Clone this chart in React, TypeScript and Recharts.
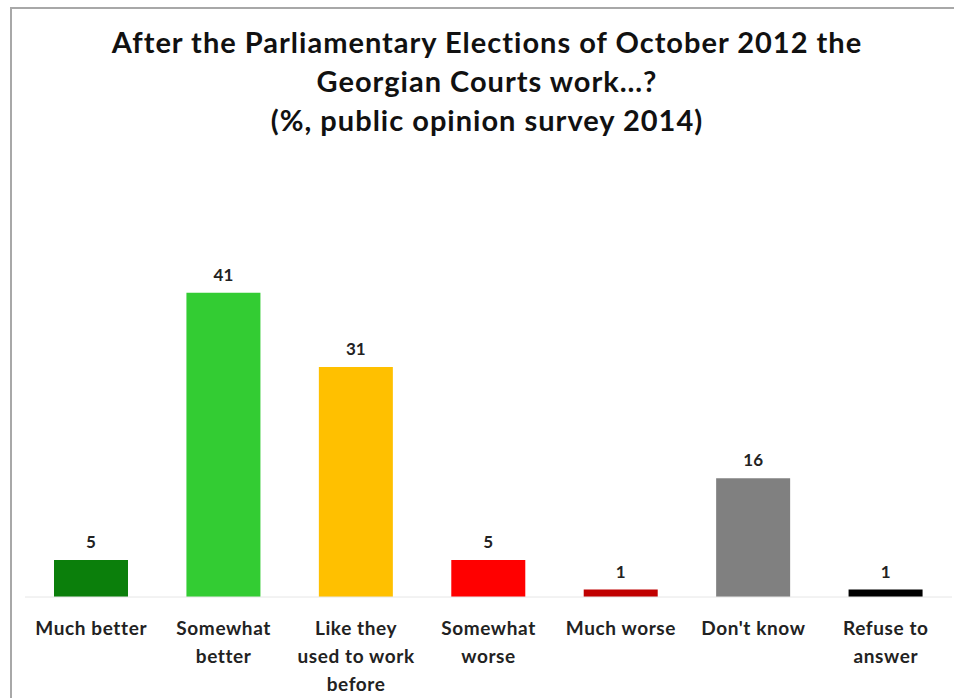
import React from "react";
import { BarChart, Bar, XAxis, YAxis, Cell, LabelList } from "recharts";

const categories = [
  "Much better",
  "Somewhat better",
  "Like they used to work before",
  "Somewhat worse",
  "Much worse",
  "Don't know",
  "Refuse to answer",
];
const tickLines: string[][] = [
  ["Much better"],
  ["Somewhat", "better"],
  ["Like they", "used to work", "before"],
  ["Somewhat", "worse"],
  ["Much worse"],
  ["Don't know"],
  ["Refuse to", "answer"],
];
const values = [5, 41, 31, 5, 1, 16, 1];
const colors = ["#0b7f0b", "#33cc33", "#ffc000", "#ff0000", "#c00000", "#808080", "#000000"];
const titleLines = [
  "After the Parliamentary Elections of October 2012 the",
  "Georgian Courts work…?",
  "(%, public opinion survey 2014)",
];

const data = categories.map((c, i) => ({ name: c, value: values[i], idx: i }));
const FONT = "Lato, 'Open Sans', sans-serif";

const Tick = (props: any) => {
  const { x, y, index } = props;
  const lines = tickLines[index] || [];
  return (
    <g transform={`translate(${x},${y})`}>
      {lines.map((l, i) => (
        <text
          key={i}
          x={0}
          y={i * 28}
          dy={30}
          textAnchor="middle"
          fontFamily={FONT}
          fontWeight={700}
          fontSize={19}
          letterSpacing={0.6}
          fill="#222"
        >
          {l}
        </text>
      ))}
    </g>
  );
};

export default function App() {
  return (
    <div style={{ position: "absolute", left: 0, top: 0, width: 954, height: 698, background: "#fff", overflow: "hidden" }}>
      <div
        style={{
          position: "absolute",
          left: 10,
          top: 7,
          width: 960,
          height: 720,
          border: "2px solid #a8a8a8",
          boxSizing: "border-box",
        }}
      />
      <div
        style={{
          position: "absolute",
          left: 0,
          top: 22,
          width: 974,
          textAlign: "center",
          fontFamily: FONT,
          fontWeight: 700,
          fontSize: 29,
          letterSpacing: 1,
          lineHeight: "39px",
          color: "#111",
        }}
      >
        {titleLines.map((t, i) => (
          <div key={i}>{t}</div>
        ))}
      </div>
      <div style={{ position: "absolute", left: 0, top: 0 }}>
        <BarChart
          width={954}
          height={698}
          data={data}
          margin={{ top: 263, right: 2, bottom: 0, left: 25 }}
          barSize={74}
        >
          <XAxis
            dataKey="name"
            axisLine={{ stroke: "#e6e6e6" }}
            tickLine={false}
            tick={<Tick />}
            interval={0}
            height={101}
          />
          <YAxis hide domain={[0, 45]} />
          <Bar dataKey="value" isAnimationActive={false}>
            {data.map((d, i) => (
              <Cell key={i} fill={colors[i]} />
            ))}
            <LabelList
              dataKey="value"
              position="top"
              offset={12}
              fill="#222"
              fontFamily={FONT}
              fontWeight={700}
              fontSize={17}
            />
          </Bar>
        </BarChart>
      </div>
    </div>
  );
}
